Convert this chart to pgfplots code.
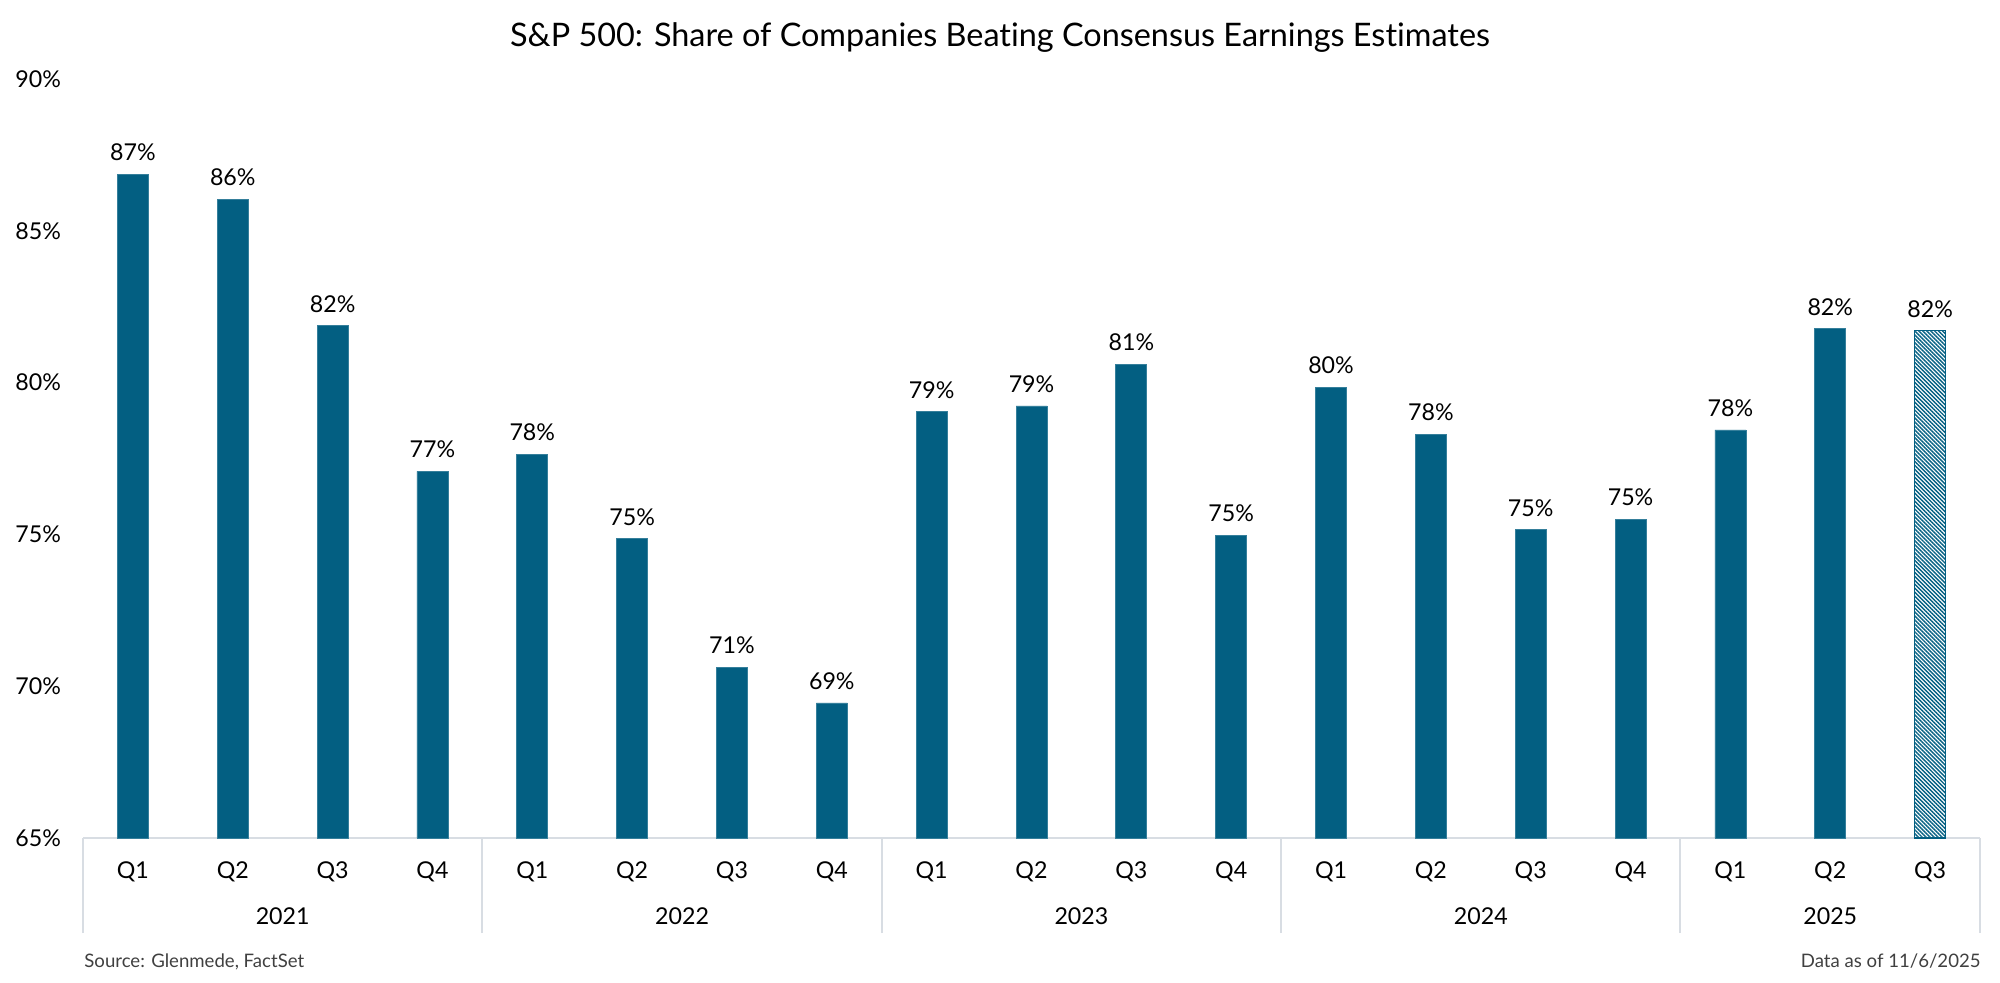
\documentclass[border=0pt]{standalone}
\usepackage{fontspec}
\setmainfont{Lato}[Ligatures=NoCommon]
\usepackage{pgfplots}
\pgfplotsset{compat=1.18}
\usetikzlibrary{patterns.meta}
\definecolor{barblue}{RGB}{3,95,130}
\definecolor{gridgray}{RGB}{216,221,227}
\definecolor{srcgray}{RGB}{64,64,64}
\newcommand\lbl{\fontsize{11.6pt}{13pt}\selectfont}
\begin{document}
\begin{tikzpicture}
\path[use as bounding box] (0,0) rectangle (1000pt,491pt);
\begin{axis}[
  at={(41.5pt,72pt)}, anchor=south west,
  scale only axis, width=948.5pt, height=379.5pt,
  xmin=0.5, xmax=19.5, ymin=65, ymax=90,
  clip=false,
  ybar, bar width=15.5pt, bar shift=0pt,
  axis x line*=bottom, axis y line*=left,
  x axis line style={gridgray, line width=1pt, -},
  y axis line style={draw=none},
  major tick length=0pt,
  xtick={1,...,19},
  xticklabels={Q1,Q2,Q3,Q4,Q1,Q2,Q3,Q4,Q1,Q2,Q3,Q4,Q1,Q2,Q3,Q4,Q1,Q2,Q3},
  xticklabel style={font=\lbl, anchor=base, yshift=-20.3pt},
  ytick={65,70,...,90},
  yticklabels={65\%,70\%,75\%,80\%,85\%,90\%},
  yticklabel style={font=\lbl, anchor=east, xshift=-7.5pt},
  extra x ticks={0.5,4.5,8.5,12.5,16.5,19.5},
  extra x tick labels={},
  extra x tick style={major tick length=47.5pt, tick align=outside,
    tick style={gridgray, line width=1pt}},
  /pgf/number format/assume math mode=true,
  nodes near coords={\pgfmathprintnumber[fixed,precision=0]{\pgfplotspointmeta}\%},
  nodes near coords style={font=\lbl, anchor=base, yshift=6.8pt},
]
\addplot[fill=barblue, draw=barblue!80!white, line width=0.4pt] coordinates {
  (1,86.86) (2,86.04) (3,81.87) (4,77.08)
  (5,77.63) (6,74.86) (7,70.62) (8,69.45)
  (9,79.04) (10,79.23) (11,80.61) (12,74.98)
  (13,79.85) (14,78.30) (15,75.15) (16,75.49)
  (17,78.44) (18,81.77)
};
\addplot[pattern={Lines[angle=-45,distance=1.4pt,line width=0.7pt]},
  pattern color=barblue, draw=barblue, line width=0.6pt] coordinates {
  (19,81.71)
};
\node[font=\lbl, anchor=base, yshift=-43.3pt] at (axis cs:2.5,65) {2021};
\node[font=\lbl, anchor=base, yshift=-43.3pt] at (axis cs:6.5,65) {2022};
\node[font=\lbl, anchor=base, yshift=-43.3pt] at (axis cs:10.5,65) {2023};
\node[font=\lbl, anchor=base, yshift=-43.3pt] at (axis cs:14.5,65) {2024};
\node[font=\lbl, anchor=base, yshift=-43.3pt] at (axis cs:18,65) {2025};
\end{axis}
\node[font=\fontsize{16.2pt}{19pt}\selectfont, anchor=base] at (500pt,467.5pt)
  {S\&P 500: Share of Companies Beating Consensus Earnings Estimates};
\node[font=\fontsize{9.3pt}{11pt}\selectfont, text=srcgray, anchor=base west, inner sep=0pt]
  at (42pt,7.5pt) {Source: Glenmede, FactSet};
\node[font=\fontsize{9.3pt}{11pt}\selectfont, text=srcgray, anchor=base east, inner sep=0pt]
  at (990.5pt,7.5pt) {Data as of 11/6/2025};
\end{tikzpicture}
\end{document}
